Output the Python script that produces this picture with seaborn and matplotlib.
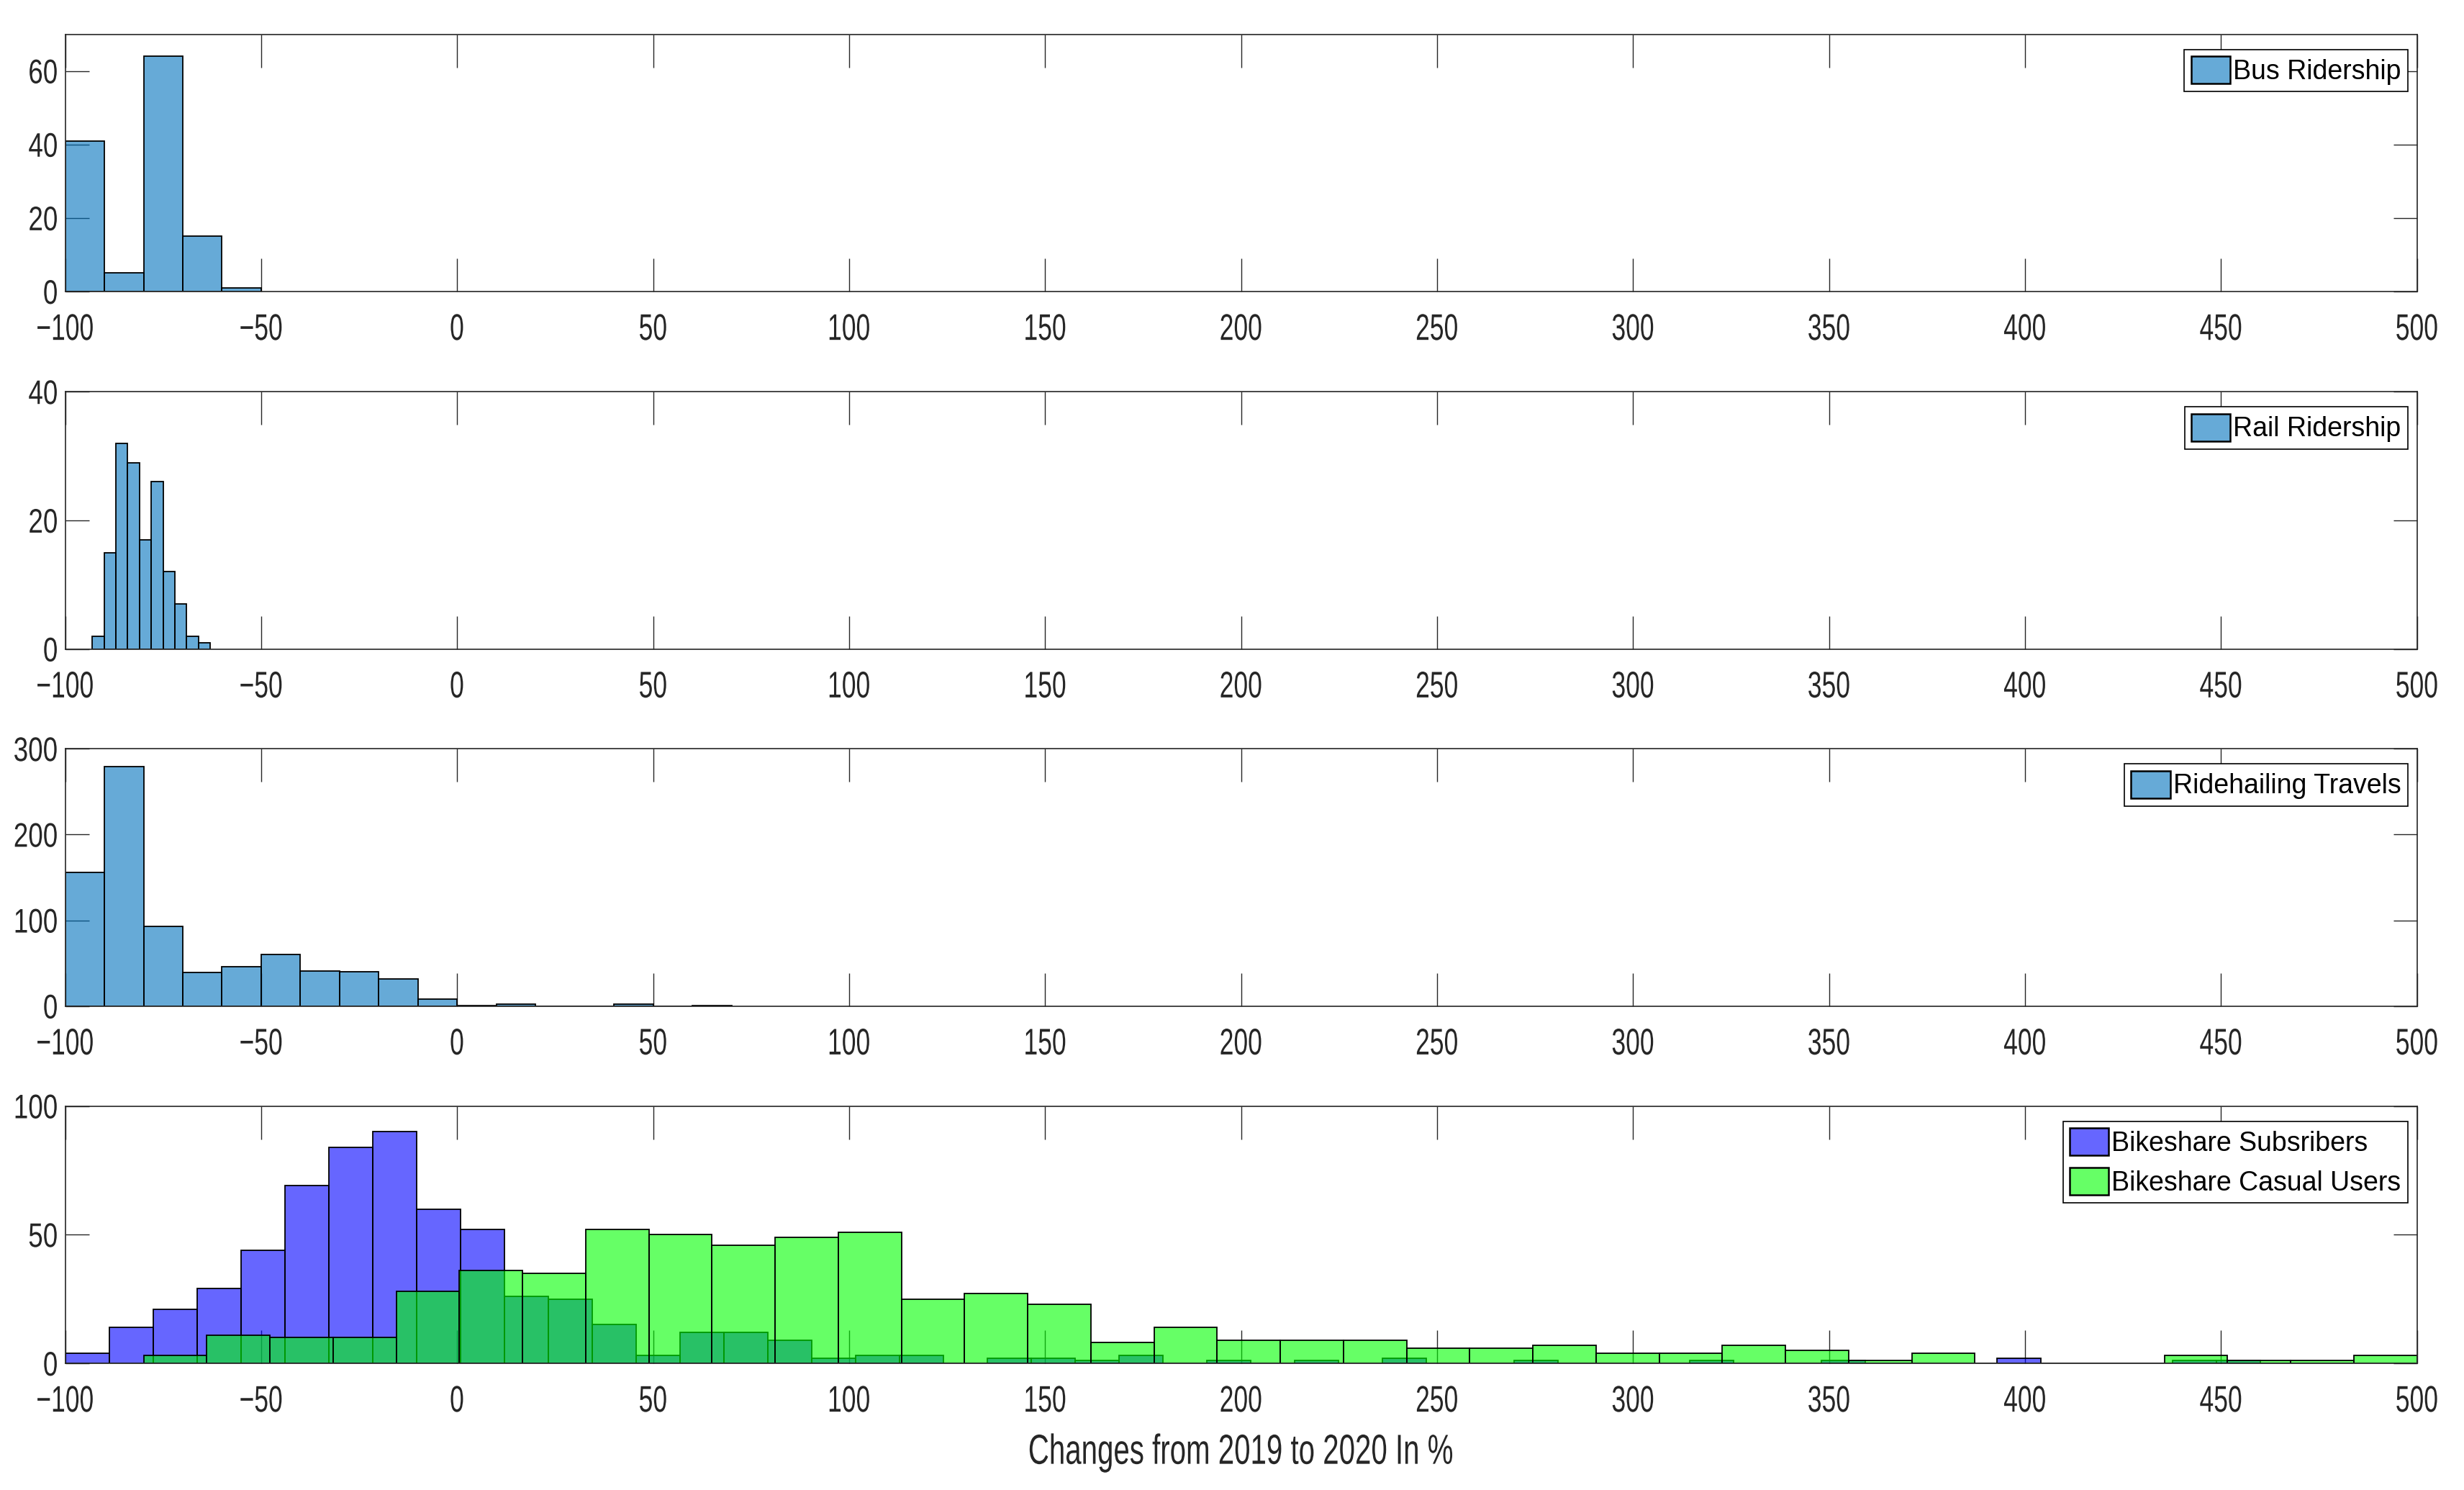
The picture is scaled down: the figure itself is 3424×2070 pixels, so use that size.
import numpy as np
import matplotlib
matplotlib.use("Agg")
import matplotlib.pyplot as plt
import matplotlib.patheffects as pe
from matplotlib.transforms import Affine2D
from matplotlib.patches import Patch
import seaborn as sns

# bin edges / counts
bus_edges = [-100, -90, -80, -70, -60, -50]
bus_counts = [41, 5, 64, 15, 1]

rail_edges = list(np.linspace(-93.1, -63.0, 11))
rail_counts = [2, 15, 32, 29, 17, 26, 12, 7, 2, 1]

ride_edges = list(range(-100, 80, 10))
ride_counts = [156, 279, 93, 39, 46, 60, 41, 40, 32, 8, 1, 2, 0, 0, 2, 0, 1]

subs_edges = list(np.linspace(-100, 460, 51))
subs_counts = [4, 14, 21, 29, 44, 69, 84, 90, 60, 52,
               26, 25, 15, 3, 12, 12, 9, 2, 3, 3,
               0, 2, 2, 1, 3, 0, 1, 0, 1, 0,
               2, 0, 0, 1, 0, 0, 0, 1, 0, 0,
               1, 0, 0, 0, 2, 0, 0, 0, 1, 1]

casual_edges = list(np.linspace(-80, 500, 37))
casual_counts = [3, 11, 10, 10, 28, 36, 35, 52, 50, 46,
                 49, 51, 25, 27, 23, 8, 14, 9, 9, 9,
                 6, 6, 7, 4, 4, 7, 5, 1, 4, 0,
                 0, 0, 3, 1, 1, 3]

x_ticks = list(range(-100, 501, 50))

sns.set_theme(style="white")
plt.rcParams['font.family'] = ['Liberation Sans', 'DejaVu Sans']

matlab_blue = (0.0, 0.447, 0.741)
tick_col = '#262626'


class Squeeze(pe.AbstractPathEffect):
    # the reference uses a tall, narrow font; squash the glyphs sideways
    def __init__(self, sx=0.7, anchor='center'):
        super().__init__()
        self.sx = sx
        self.anchor = anchor

    def draw_path(self, renderer, gc, tpath, affine, rgbFace=None):
        v = tpath.vertices
        x0, x1 = (v[:, 0].min(), v[:, 0].max()) if len(v) else (0, 0)
        a = {'left': x0, 'center': (x0 + x1) / 2, 'right': x1}[self.anchor]
        t = Affine2D().translate(-a, 0).scale(self.sx, 1).translate(a, 0)
        renderer.draw_path(gc, tpath, t + affine, rgbFace)


def centers(edges):
    e = np.asarray(edges, dtype=float)
    return (e[:-1] + e[1:]) / 2


def hist(ax, edges, counts, color):
    sns.histplot(x=centers(edges), weights=counts, bins=edges, ax=ax,
                 color=color, alpha=0.6, edgecolor='black', linewidth=0.65)


def style(ax, ylim, yticks):
    ax.set_xlim(-100, 500)
    ax.set_ylim(*ylim)
    ax.set_xticks(x_ticks)
    ax.set_yticks(yticks)
    ax.set_ylabel('')
    ax.set_xlabel('')
    for s in ax.spines.values():
        s.set_color(tick_col)
        s.set_linewidth(0.6)
        s.set_visible(True)
    ax.tick_params(axis='x', which='major', direction='in', length=16.5, width=0.5,
                   color=tick_col, labelcolor=tick_col, labelsize=18.5, pad=10.5,
                   top=True, bottom=True)
    ax.tick_params(axis='y', which='major', direction='in', length=12, width=0.5,
                   color=tick_col, labelcolor=tick_col, labelsize=17, pad=3.5,
                   left=True, right=True)
    for lab in ax.get_xticklabels():
        lab.set_path_effects([Squeeze(0.69, 'center')])
    for lab in ax.get_yticklabels():
        lab.set_path_effects([Squeeze(0.78, 'right')])


def legend(ax, labels, colors):
    handles = [Patch(facecolor=(*c, 0.6), edgecolor='black', linewidth=0.9) for c in colors]
    leg = ax.legend(handles, labels, loc='upper right', bbox_to_anchor=(1 - 13 / 3268, 1 - 21 / 357),
                    borderaxespad=0, fontsize=13.5, frameon=True, fancybox=False,
                    framealpha=1, edgecolor='black', handlelength=1.45, handleheight=1.2,
                    handletextpad=0.1, borderpad=0.25, labelspacing=0.4)
    leg.get_frame().set_linewidth(0.6)
    for t in leg.get_texts():
        t.set_color('black')


fig = plt.figure(figsize=(17.12, 10.35), dpi=200)
left, width, height = 0.02646, 0.95447, 0.1727

ax1 = fig.add_axes([left, 0.80435, width, height])
hist(ax1, bus_edges, bus_counts, matlab_blue)
style(ax1, (0, 70), [0, 20, 40, 60])
legend(ax1, ['Bus Ridership'], [matlab_blue])

ax2 = fig.add_axes([left, 0.56440, width, height])
hist(ax2, rail_edges, rail_counts, matlab_blue)
style(ax2, (0, 40), [0, 20, 40])
legend(ax2, ['Rail Ridership'], [matlab_blue])

ax3 = fig.add_axes([left, 0.32478, width, height])
hist(ax3, ride_edges, ride_counts, matlab_blue)
style(ax3, (0, 300), [0, 100, 200, 300])
legend(ax3, ['Ridehailing Travels'], [matlab_blue])

ax4 = fig.add_axes([left, 0.08502, width, height])
hist(ax4, subs_edges, subs_counts, (0.0, 0.0, 1.0))
hist(ax4, casual_edges, casual_counts, (0.0, 1.0, 0.0))
style(ax4, (0, 100), [0, 50, 100])
legend(ax4, ['Bikeshare Subsribers', 'Bikeshare Casual Users'], [(0.0, 0.0, 1.0), (0.0, 1.0, 0.0)])
xl = ax4.set_xlabel('Changes from 2019 to 2020 In %', fontsize=21, color=tick_col, labelpad=7)
xl.set_path_effects([Squeeze(0.69, 'center')])

fig.savefig('out.png', dpi=200)
